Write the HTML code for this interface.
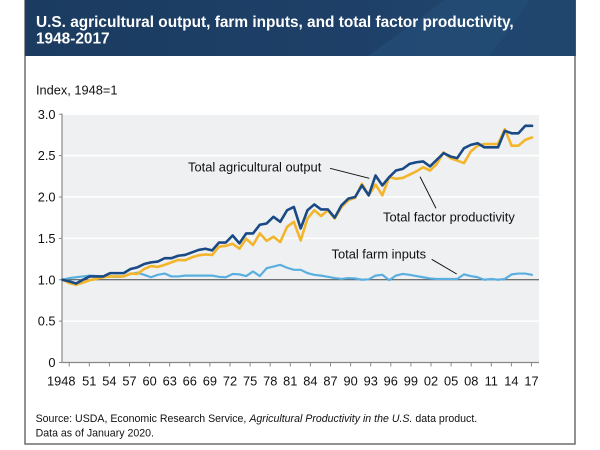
<!DOCTYPE html>
<html>
<head>
<meta charset="utf-8">
<style>
html,body{margin:0;padding:0;background:#fff;}
body{width:600px;height:450px;overflow:hidden;}
svg{display:block;}
text{font-family:"Liberation Sans",Arial,sans-serif;}
</style>
</head>
<body>
<svg width="600" height="450" viewBox="0 0 600 450" xmlns="http://www.w3.org/2000/svg">
  <defs>
    <linearGradient id="hg" x1="0" y1="0" x2="1" y2="0">
      <stop offset="0" stop-color="#1b3b60"/>
      <stop offset="0.6" stop-color="#1e4068"/>
      <stop offset="1" stop-color="#22486f"/>
    </linearGradient>
  </defs>
  <!-- frame -->
  <rect x="25" y="0" width="550" height="444" fill="#fff" stroke="#6e6e6e" stroke-width="1.5"/>
  <!-- header -->
  <rect x="25" y="0" width="550.75" height="56" fill="url(#hg)"/>
  <polygon points="445,0 575.75,0 575.75,56 368,56" fill="#25507a" opacity="0.55"/>
  <polygon points="530,0 575.75,0 575.75,56 490,56" fill="#1d4068" opacity="0.5"/>
  <text x="36" y="27" font-size="15.4" font-weight="bold" fill="#fff">U.S. agricultural output, farm inputs, and total factor productivity,</text>
  <text x="36" y="43.5" font-size="15.4" font-weight="bold" fill="#fff">1948-2017</text>

  <!-- axis title -->
  <text x="36" y="94.5" font-size="12.8" fill="#111">Index, 1948=1</text>

  <!-- plot area -->
  <rect x="62" y="114" width="477" height="248.5" fill="#eff0f1"/>
  <g stroke="#ffffff" stroke-width="1.5">
    <line x1="62" y1="114.25" x2="539" y2="114.25"/>
    <line x1="62" y1="155.6" x2="539" y2="155.6"/>
    <line x1="62" y1="197" x2="539" y2="197"/>
    <line x1="62" y1="238.4" x2="539" y2="238.4"/>
    <line x1="62" y1="321.1" x2="539" y2="321.1"/>
  </g>
  <line x1="62" y1="279.75" x2="539" y2="279.75" stroke="#444" stroke-width="1"/>

  <!-- y axis -->
  <line x1="62" y1="113.5" x2="62" y2="363" stroke="#888" stroke-width="1.2"/>
  <g stroke="#888" stroke-width="1">
    <line x1="59" y1="114.25" x2="62" y2="114.25"/>
    <line x1="59" y1="155.6" x2="62" y2="155.6"/>
    <line x1="59" y1="197" x2="62" y2="197"/>
    <line x1="59" y1="238.4" x2="62" y2="238.4"/>
    <line x1="59" y1="279.75" x2="62" y2="279.75"/>
    <line x1="59" y1="321.1" x2="62" y2="321.1"/>
    <line x1="59" y1="362.5" x2="62" y2="362.5"/>
  </g>
  <g font-size="12.8" fill="#111" text-anchor="end">
    <text x="55.5" y="118.8">3.0</text>
    <text x="55.5" y="160.1">2.5</text>
    <text x="55.5" y="201.5">2.0</text>
    <text x="55.5" y="242.9">1.5</text>
    <text x="55.5" y="284.3">1.0</text>
    <text x="55.5" y="325.6">0.5</text>
    <text x="55.5" y="367">0</text>
  </g>

  <!-- x axis -->
  <line x1="62" y1="362.5" x2="539" y2="362.5" stroke="#888" stroke-width="1.2"/>
  <g stroke="#888" stroke-width="1">
    <line x1="69.2" y1="362.5" x2="69.2" y2="366.5"/>
    <line x1="89.3" y1="362.5" x2="89.3" y2="366.5"/>
    <line x1="109.4" y1="362.5" x2="109.4" y2="366.5"/>
    <line x1="129.5" y1="362.5" x2="129.5" y2="366.5"/>
    <line x1="149.6" y1="362.5" x2="149.6" y2="366.5"/>
    <line x1="169.7" y1="362.5" x2="169.7" y2="366.5"/>
    <line x1="189.8" y1="362.5" x2="189.8" y2="366.5"/>
    <line x1="209.9" y1="362.5" x2="209.9" y2="366.5"/>
    <line x1="230" y1="362.5" x2="230" y2="366.5"/>
    <line x1="250.1" y1="362.5" x2="250.1" y2="366.5"/>
    <line x1="270.2" y1="362.5" x2="270.2" y2="366.5"/>
    <line x1="290.3" y1="362.5" x2="290.3" y2="366.5"/>
    <line x1="310.4" y1="362.5" x2="310.4" y2="366.5"/>
    <line x1="330.5" y1="362.5" x2="330.5" y2="366.5"/>
    <line x1="350.6" y1="362.5" x2="350.6" y2="366.5"/>
    <line x1="370.7" y1="362.5" x2="370.7" y2="366.5"/>
    <line x1="390.8" y1="362.5" x2="390.8" y2="366.5"/>
    <line x1="410.9" y1="362.5" x2="410.9" y2="366.5"/>
    <line x1="431" y1="362.5" x2="431" y2="366.5"/>
    <line x1="451.1" y1="362.5" x2="451.1" y2="366.5"/>
    <line x1="471.2" y1="362.5" x2="471.2" y2="366.5"/>
    <line x1="491.3" y1="362.5" x2="491.3" y2="366.5"/>
    <line x1="511.4" y1="362.5" x2="511.4" y2="366.5"/>
    <line x1="531.5" y1="362.5" x2="531.5" y2="366.5"/>
  </g>
  <g font-size="12.8" fill="#111" text-anchor="middle">
    <text x="75.5" y="385.5" text-anchor="end">1948</text>
    <text x="89.3" y="385.5">51</text>
    <text x="109.4" y="385.5">54</text>
    <text x="129.5" y="385.5">57</text>
    <text x="149.6" y="385.5">60</text>
    <text x="169.7" y="385.5">63</text>
    <text x="189.8" y="385.5">66</text>
    <text x="209.9" y="385.5">69</text>
    <text x="230" y="385.5">72</text>
    <text x="250.1" y="385.5">75</text>
    <text x="270.2" y="385.5">78</text>
    <text x="290.3" y="385.5">81</text>
    <text x="310.4" y="385.5">84</text>
    <text x="330.5" y="385.5">87</text>
    <text x="350.6" y="385.5">90</text>
    <text x="370.7" y="385.5">93</text>
    <text x="390.8" y="385.5">96</text>
    <text x="410.9" y="385.5">99</text>
    <text x="431" y="385.5">02</text>
    <text x="451.1" y="385.5">05</text>
    <text x="471.2" y="385.5">08</text>
    <text x="491.3" y="385.5">11</text>
    <text x="511.4" y="385.5">14</text>
    <text x="531.5" y="385.5">17</text>
  </g>

  <!-- series -->
  <g transform="translate(62.5,362.5) scale(6.805,-82.75)" fill="none" stroke-linejoin="round" stroke-linecap="round">
    <polyline vector-effect="non-scaling-stroke" stroke="#5aafe0" stroke-width="2.2"
      points="0,1 1,1.02 2,1.03 3,1.04 4,1.05 5,1.045 6,1.04 7,1.04 8,1.035 9,1.04 10,1.07 11,1.085 12,1.06 13,1.03 14,1.06 15,1.075 16,1.04 17,1.04 18,1.05 19,1.05 20,1.05 21,1.05 22,1.05 23,1.035 24,1.03 25,1.07 26,1.065 27,1.045 28,1.1 29,1.045 30,1.14 31,1.16 32,1.18 33,1.145 34,1.12 35,1.12 36,1.08 37,1.06 38,1.05 39,1.035 40,1.02 41,1.01 42,1.02 43,1.015 44,1 45,1.005 46,1.05 47,1.06 48,0.995 49,1.05 50,1.07 51,1.06 52,1.045 53,1.03 54,1.015 55,1.01 56,1.01 57,1.01 58,1.01 59,1.065 60,1.045 61,1.03 62,1 63,1.01 64,1 65,1.01 66,1.065 67,1.075 68,1.075 69,1.06"/>
    <polyline vector-effect="non-scaling-stroke" stroke="#f3b52b" stroke-width="2.6"
      points="0,1 1,0.96 2,0.94 3,0.965 4,0.995 5,1.01 6,1.03 7,1.04 8,1.04 9,1.04 10,1.075 11,1.07 12,1.13 13,1.165 14,1.155 15,1.18 16,1.21 17,1.24 18,1.235 19,1.27 20,1.295 21,1.305 22,1.3 23,1.4 24,1.41 25,1.435 26,1.375 27,1.495 28,1.42 29,1.56 30,1.47 31,1.52 32,1.455 33,1.64 34,1.7 35,1.475 36,1.74 37,1.84 38,1.77 39,1.84 40,1.74 41,1.88 42,1.96 43,1.99 44,2.16 45,2.02 46,2.15 47,2.02 48,2.24 49,2.22 50,2.23 51,2.27 52,2.31 53,2.36 54,2.32 55,2.4 56,2.54 57,2.47 58,2.44 59,2.41 60,2.55 61,2.62 62,2.64 63,2.64 64,2.64 65,2.82 66,2.62 67,2.62 68,2.69 69,2.72"/>
    <polyline vector-effect="non-scaling-stroke" stroke="#1a4a86" stroke-width="2.6"
      points="0,1 1,0.98 2,0.955 3,1 4,1.04 5,1.04 6,1.04 7,1.08 8,1.08 9,1.08 10,1.13 11,1.15 12,1.19 13,1.21 14,1.22 15,1.26 16,1.26 17,1.29 18,1.3 19,1.33 20,1.36 21,1.375 22,1.355 23,1.45 24,1.45 25,1.535 26,1.44 27,1.56 28,1.56 29,1.665 30,1.68 31,1.76 32,1.7 33,1.84 34,1.88 35,1.62 36,1.84 37,1.91 38,1.85 39,1.85 40,1.75 41,1.9 42,1.98 43,2 44,2.14 45,2.02 46,2.26 47,2.14 48,2.24 49,2.32 50,2.34 51,2.4 52,2.42 53,2.43 54,2.37 55,2.45 56,2.53 57,2.49 58,2.47 59,2.59 60,2.63 61,2.65 62,2.6 63,2.6 64,2.6 65,2.8 66,2.77 67,2.77 68,2.86 69,2.86"/>
  </g>

  <!-- annotations -->
  <g font-size="12.9" fill="#111">
    <text x="188" y="171.5">Total agricultural output</text>
    <text x="383" y="221.5">Total factor productivity</text>
    <text x="331.5" y="258.5">Total farm inputs</text>
  </g>
  <g stroke="#111" stroke-width="1">
    <line x1="330" y1="168.3" x2="369.3" y2="178.3"/>
    <line x1="420" y1="176.7" x2="436" y2="208.3"/>
    <line x1="431.7" y1="259.3" x2="456.7" y2="274"/>
  </g>

  <!-- source -->
  <text x="35.6" y="422" font-size="10.6" fill="#111">Source: USDA, Economic Research Service, <tspan font-style="italic">Agricultural Productivity in the U.S.</tspan> data product.</text>
  <text x="35.6" y="436.5" font-size="10.6" fill="#111">Data as of January 2020.</text>
</svg>
</body>
</html>
